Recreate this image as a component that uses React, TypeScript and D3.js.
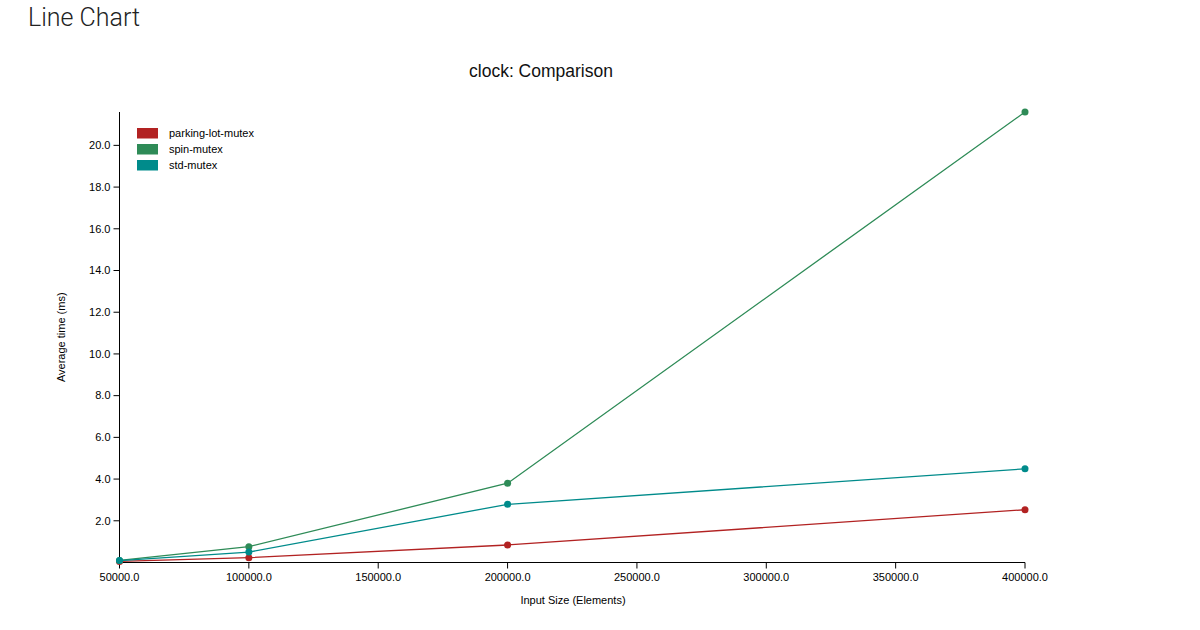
import React from "react";
import * as d3 from "d3";

const inputSizes = [50000, 100000, 200000, 400000];
const seriesNames = ["parking-lot-mutex", "spin-mutex", "std-mutex"];
const parkingLot = [0.05, 0.23, 0.84, 2.53];
const spin = [0.1, 0.76, 3.8, 21.6];
const std = [0.09, 0.5, 2.79, 4.49];
const seriesColors = ["#b22222", "#2e8b57", "#008b8b"];
const xTicks = [50000, 100000, 150000, 200000, 250000, 300000, 350000, 400000];
const yTicks = [2, 4, 6, 8, 10, 12, 14, 16, 18, 20];

export default function App() {
  const W = 1200, H = 630;
  const left = 119.5, right = 1025, top = 112, bottom = 562.5;
  const allSeries = [parkingLot, spin, std];
  const maxY = d3.max(allSeries.flat()) as number;
  const x = d3.scaleLinear().domain([50000, 400000]).range([left, right]);
  const y = d3.scaleLinear().domain([0, maxY]).range([bottom, top]);
  const fmt = d3.format(".1f");
  const line = d3.line<number>().x((_, i) => x(inputSizes[i])).y((d) => y(d));
  const font = "Helvetica Neue, Liberation Sans, Arial, sans-serif";

  return (
    <svg width={W} height={H} style={{ position: "absolute", left: 0, top: 0, background: "#fff" }} fontFamily={font}>
      <text x={28} y={26} fontSize={25} fontFamily="Roboto, sans-serif" fontWeight={300} fill="#222">Line Chart</text>
      <text x={541} y={77} fontSize={17.5} textAnchor="middle" fill="#111">clock: Comparison</text>

      {/* axes */}
      <line x1={left} x2={left} y1={top} y2={bottom} stroke="#000" strokeWidth={1} />
      <line x1={left} x2={right} y1={bottom} y2={bottom} stroke="#000" strokeWidth={1} />
      {yTicks.map((t) => (
        <g key={"y" + t}>
          <line x1={left - 6} x2={left} y1={y(t)} y2={y(t)} stroke="#000" />
          <text x={left - 9} y={y(t)} dy="0.35em" fontSize={11} textAnchor="end" fill="#000">{fmt(t)}</text>
        </g>
      ))}
      {xTicks.map((t) => (
        <g key={"x" + t}>
          <line x1={x(t)} x2={x(t)} y1={bottom} y2={bottom + 6} stroke="#000" />
          <text x={x(t)} y={bottom + 18} fontSize={11} textAnchor="middle" fill="#000">{fmt(t)}</text>
        </g>
      ))}
      <text x={573} y={604} fontSize={11} textAnchor="middle" fill="#000">Input Size (Elements)</text>
      <text transform={`translate(65,${(top + bottom) / 2}) rotate(-90)`} fontSize={11} textAnchor="middle" fill="#000">Average time (ms)</text>

      {/* series */}
      {allSeries.map((s, si) => (
        <g key={"s" + si}>
          <path d={line(s) as string} fill="none" stroke={seriesColors[si]} strokeWidth={1.3} />
          {s.map((v, i) => (
            <circle key={i} cx={x(inputSizes[i])} cy={y(v)} r={3.5} fill={seriesColors[si]} />
          ))}
        </g>
      ))}

      {/* legend */}
      {seriesNames.map((n, i) => (
        <g key={"l" + n} transform={`translate(137,${128 + i * 16})`}>
          <rect x={0} y={0} width={21} height={10.5} fill={seriesColors[i]} />
          <text x={32} y={5} dy="0.35em" fontSize={11} fill="#000">{n}</text>
        </g>
      ))}
    </svg>
  );
}
